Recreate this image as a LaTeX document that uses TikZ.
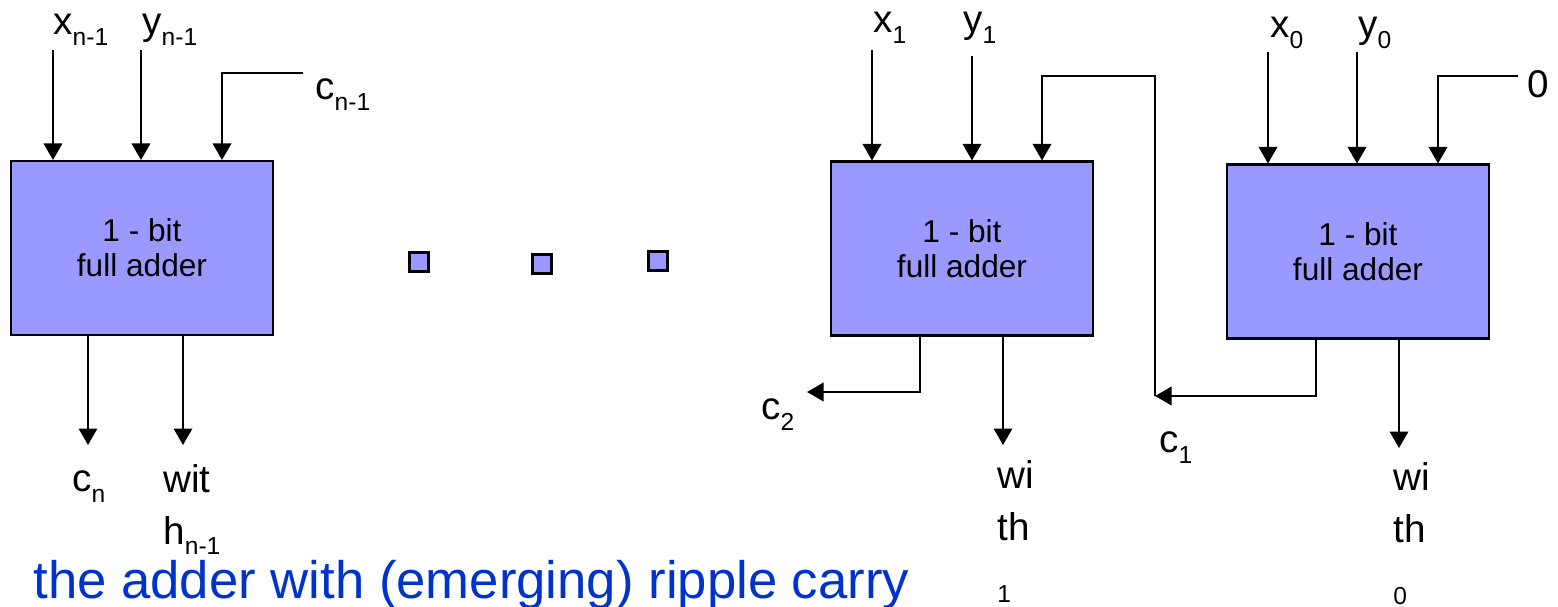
\documentclass[tikz,border=0pt]{standalone}
\usepackage{fontspec}
\setmainfont{Liberation Sans}
\usetikzlibrary{arrows.meta,positioning}
\definecolor{adderblue}{RGB}{153,153,255}
\definecolor{titleblue}{RGB}{0,51,204}
\newcommand{\sbs}[1]{\raisebox{-5.7pt}{\fontsize{14}{14}\selectfont #1}}
\tikzset{
  adder/.style={draw=black, line width=1.2pt, fill=adderblue,
                minimum width=5.24cm, minimum height=3.48cm,
                align=center, inner sep=0pt,
                font=\fontsize{18}{20}\selectfont},
  dotbox/.style={draw=black, line width=1.2pt, fill=adderblue,
                 minimum size=0.38cm, inner sep=0pt},
  sig/.style={anchor=base west, inner sep=0pt,
              font=\fontsize{22}{29.5}\selectfont},
  sumlabel/.style={sig, anchor=north west, align=left},
  wire/.style={line width=1.1pt, draw=black},
  arrow/.style={wire, -{Triangle[length=0.33cm,width=0.37cm]}}
}

\begin{document}
\begin{tikzpicture}[x=0.02cm, y=-0.02cm]
  \useasboundingbox (0,0) rectangle (1558,607);

  % the three full adders
  \node[adder] (fan) at (142,248) {1 - bit\\full adder};
  \node[adder] (fa1) at (962,248.5) {1 - bit\\full adder};
  \node[adder] (fa0) at (1358,251.5) {1 - bit\\full adder};

  % dots between the stages
  \node[dotbox] (dota) at (419,262) {};
  \node[dotbox] (dotb) at (542,264) {};
  \node[dotbox] (dotc) at (658,261) {};

  % stage n-1
  \node[sig] (xn) at (53,35) {x\sbs{n-1}};
  \node[sig] (yn) at (142,35) {y\sbs{n-1}};
  \node[sig] (cin) at (315,100) {c\sbs{n-1}};
  \node[sig] (cn) at (72,492) {c\sbs{n}};
  \node[sumlabel] (wn) at (163,464) {wit\\h\sbs{n-1}};
  \coordinate (xnin) at (53,50);
  \coordinate (ynin) at (141,50);
  \coordinate (cnin) at (303,73);
  \coordinate (cnbend) at (222,73);
  \coordinate (cnout) at (88,445);
  \coordinate (wnout) at (183,445);
  \draw[arrow] (xnin) -- (xnin |- fan.north);
  \draw[arrow] (ynin) -- (ynin |- fan.north);
  \draw[arrow] (cnin) -- (cnbend) -- (cnbend |- fan.north);
  \draw[arrow] (cnout |- fan.south) -- (cnout);
  \draw[arrow] (wnout |- fan.south) -- (wnout);

  % stage 1
  \node[sig] (x1) at (873,33) {x\sbs{1}};
  \node[sig] (y1) at (963,33) {y\sbs{1}};
  \node[sig] (c2) at (761,420) {c\sbs{2}};
  \node[sig] (c1) at (1159,453) {c\sbs{1}};
  \node[sumlabel] (w1) at (997,460) {wi\\th\\\sbs{1}};
  \coordinate (x1in) at (872,50);
  \coordinate (y1in) at (972,56);
  \coordinate (c1bend) at (1042,76);
  \coordinate (c2bend) at (920,392);
  \coordinate (c2out) at (807,392);
  \coordinate (w1out) at (1003,445);
  \draw[arrow] (x1in) -- (x1in |- fa1.north);
  \draw[arrow] (y1in) -- (y1in |- fa1.north);
  \draw[arrow] (c2bend |- fa1.south) -- (c2bend) -- (c2out);
  \draw[arrow] (w1out |- fa1.south) -- (w1out);

  % stage 0
  \node[sig] (x0) at (1270,38) {x\sbs{0}};
  \node[sig] (y0) at (1358,38) {y\sbs{0}};
  \node[sig] (zero) at (1527,98) {0};
  \node[sumlabel] (w0) at (1393,462) {wi\\th\\\sbs{0}};
  \coordinate (x0in) at (1268,52);
  \coordinate (y0in) at (1357,52);
  \coordinate (c0in) at (1518,76);
  \coordinate (c0bend) at (1438,76);
  \coordinate (c1bend2) at (1316,396);
  \coordinate (c1pt) at (1155,396);
  \coordinate (w0out) at (1399,448);
  \draw[arrow] (x0in) -- (x0in |- fa0.north);
  \draw[arrow] (y0in) -- (y0in |- fa0.north);
  \draw[arrow] (c0in) -- (c0bend) -- (c0bend |- fa0.north);
  \draw[arrow] (w0out |- fa0.south) -- (w0out);

  % ripple carry from stage 0 to stage 1
  \draw[arrow] (c1bend2 |- fa0.south) -- (c1bend2) -- (c1pt);
  \draw[arrow] (c1pt) |- (c1bend) -- (c1bend |- fa1.north);

  % caption
  \node[anchor=base west, inner sep=0pt, text=titleblue,
        font=\fontsize{30}{30}\selectfont] (caption) at (33,598)
        {the adder with (emerging) ripple carry};
\end{tikzpicture}
\end{document}
